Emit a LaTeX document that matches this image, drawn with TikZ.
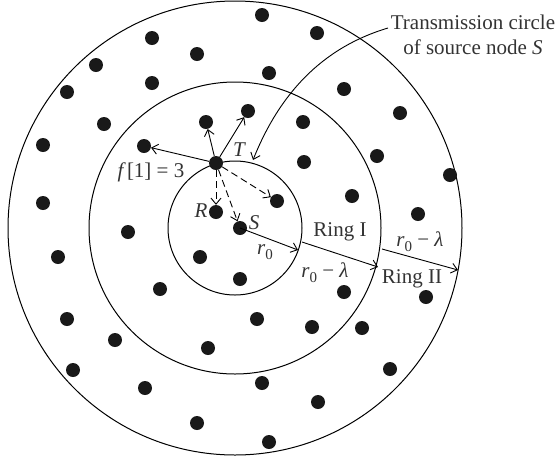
\documentclass[tikz,border=0pt]{standalone}
\usepackage{fontspec}
\setmainfont{Liberation Serif}
\usetikzlibrary{arrows.meta}
\newcommand\rnull{{\itshape r}\raisebox{-0.25em}{\fontsize{15}{15}\selectfont 0}}
\tikzset{
  dot/.style={circle, fill=black!90, inner sep=0pt, minimum size=14pt},
  ring/.style={line width=1pt},
  arr/.style={line width=0.9pt, -{Straight Barb[length=6pt,width=10pt]}},
  darr/.style={arr, dash pattern=on 7pt off 4pt},
  lbl/.style={font=\fontsize{21}{25}\selectfont, text=black!80, inner sep=0pt}
}
\begin{document}
\begin{tikzpicture}[x=1pt,y=-1pt]
\path[use as bounding box] (0,0) rectangle (557,459);
% rings
\coordinate (C) at (235,228);
\draw[ring] (C) circle[radius=67pt];
\draw[ring] (C) circle[radius=146pt];
\draw[ring] (C) circle[radius=227pt];
% outer ring dots
\foreach \x/\y [count=\i] in {262/15,317/33,152/38,197/54,96/65,269/73,344/89,67/92,400/113,
  43/145,450/175,43/203,418/214,58/257,426/297,67/319,115/340,73/370,390/369,145/388,
  318/402,197/423,269/442,262/383,362/328,377/156,152/83,104/124}
  \node[dot] (o\i) at (\x,\y) {};
% middle ring dots
\node[dot] (m1) at (128,232) {};
\node[dot] (m2) at (206,122) {};
\node[dot] (m3) at (248,111) {};
\node[dot] (m4) at (144,146) {};
\node[dot] (m5) at (303,122) {};
\node[dot] (m6) at (304,162) {};
\node[dot] (m7) at (352,196) {};
\node[dot] (m8) at (160,289) {};
\node[dot] (m9) at (257,319) {};
\node[dot] (m10) at (208,348) {};
\node[dot] (m11) at (344,292) {};
\node[dot] (m12) at (312,327) {};
% inner dots
\node[dot] (T) at (216,163) {};
\node[dot] (R) at (216,212) {};
\node[dot] (S) at (240,228) {};
\node[dot] (i1) at (277,201) {};
\node[dot] (i2) at (200,257) {};
\node[dot] (i3) at (240,279) {};
% arrows from T
\draw[arr] (T) -- (m4);
\draw[arr] (T) -- (m2);
\draw[arr] (T) -- (m3);
\draw[darr] (T) -- (R);
\draw[darr] (T) -- (S);
\draw[darr] (T) -- (i1);
% radius arrows
\coordinate (e1) at (298,250);
\coordinate (b2) at (302,242);
\coordinate (e2) at (378,267);
\coordinate (b3) at (382,249);
\coordinate (e3) at (458,270);
\draw[arr] (S.center) -- (e1);
\draw[arr] (b2) -- (e2);
\draw[arr] (b3) -- (e3);
% labels
\node[lbl] (lT) at (239,150) {\itshape T};
\node[lbl] (lR) at (201,211) {\itshape R};
\node[lbl] (lS) at (254,223) {\itshape S};
\node[lbl] (lf) at (151,172) {{\itshape f}\,[1] = 3};
\node[lbl] (lr0) at (265,252) {\rnull};
\node[lbl] (lR1) at (340,232) {Ring I};
\node[lbl] (lrl1) at (325,273) {\rnull\ − {\itshape λ}};
\node[lbl] (lrl2) at (420,242) {\rnull\ − {\itshape λ}};
\node[lbl] (lR2) at (412,279) {Ring II};
\node[lbl, align=center] (tc) at (473,35) {Transmission circle\\of source node {\itshape S}};
\coordinate (cs) at (388,28);
\coordinate (ce) at (253,160);
\draw[arr] (cs) .. controls (321,48) and (279,95) .. (ce);
\end{tikzpicture}
\end{document}
